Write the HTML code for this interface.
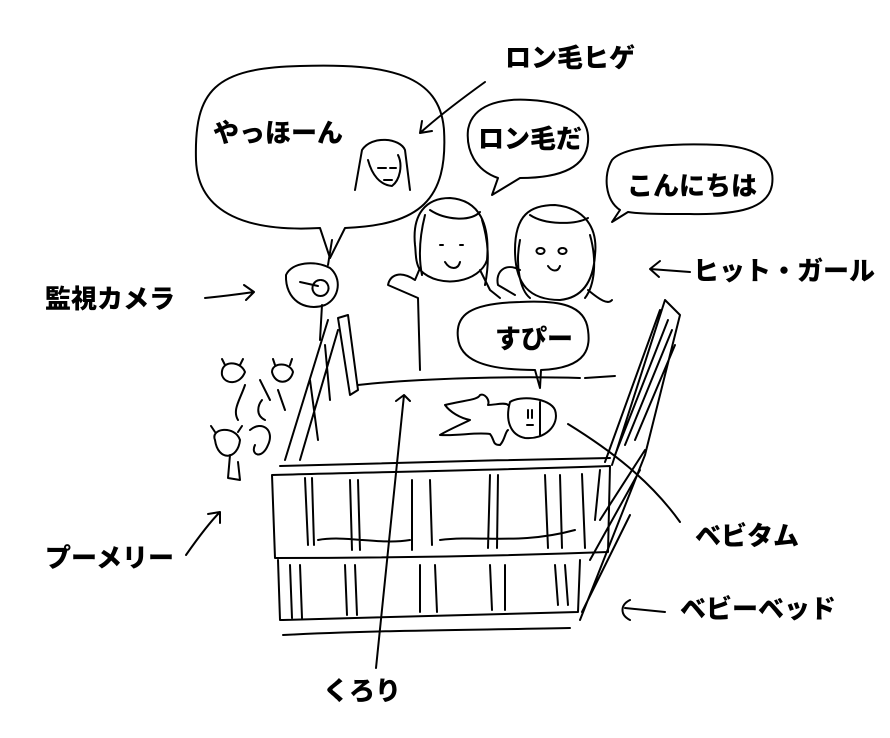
<!DOCTYPE html>
<html><head><meta charset="utf-8"><style>
html,body{margin:0;padding:0;background:#fff;}
svg{display:block}
text{font-family:"Liberation Sans","Noto Sans CJK JP",sans-serif;font-weight:900;fill:#000;font-size:26px}
</style></head><body>
<svg width="890" height="738" viewBox="0 0 890 738" xmlns="http://www.w3.org/2000/svg">
<g fill="none" stroke="#000" stroke-width="2" stroke-linecap="round" stroke-linejoin="round">
<path d="M320,228 C250,232 198,215 196,160 C194,90 215,68 300,66 C390,63 440,75 444,130 C448,200 420,225 345,228 L330,258 Z"/>
<path d="M362,150 C372,135 400,138 405,150 L410,190 M362,150 L355,190 M368,160 C372,175 380,185 392,186 C400,180 403,165 398,155 M378,168 l8,0 M390,168 l6,0 M384,180 l8,0"/>
<path d="M485,82 C460,100 440,115 420,133 M420,133 l12,-2 M420,133 l2,-12"/>
<path d="M492,195 L498,178 C475,170 466,150 468,130 C472,105 500,98 530,100 C570,102 590,118 588,142 C586,168 560,178 520,178 Z"/>
<path d="M612,222 L620,210 C605,200 603,175 612,160 C625,145 680,143 720,145 C765,148 775,165 772,185 C768,208 740,215 690,214 C660,214 640,214 628,212 Z"/>
<path d="M205,298 C225,296 240,294 254,292 M254,292 l-10,-7 M254,292 l-8,8"/>
<path d="M286,275 C292,262 315,260 330,268 C342,278 340,298 325,305 C305,312 285,300 286,275 Z M300,282 l18,4 M320,280 a8,8 0 1,0 1,0 M322,305 L320,340"/>
<path d="M328,265 L332,240"/>
<path d="M690,272 L650,269 M650,269 l10,-8 M650,269 l9,8"/>
<!-- girl 1 long hair -->
<path d="M415,245 C412,215 425,198 450,198 C480,200 490,225 487,260 C480,282 440,290 420,270 C415,262 416,252 415,245 Z M430,210 C445,220 470,222 480,212 M440,245 l3,0 M460,245 l3,0 M445,262 C450,270 458,270 460,262 M425,215 C420,235 418,255 422,275 M482,220 C488,240 490,260 485,285"/>
<path d="M420,268 L415,280 C400,270 390,275 388,285 L418,298 L420,370 M480,270 L490,290 L500,298"/>
<!-- girl 2 -->
<path d="M515,250 C515,215 530,205 555,205 C585,208 598,228 595,255 C593,285 580,298 560,300 C530,300 515,285 515,250 Z M530,215 C545,225 575,225 588,218 M540,248 a4,3 0 1,0 1,0 M562,248 a4,3 0 1,0 1,0 M548,266 C552,272 558,272 560,266 M520,240 C515,265 520,290 530,298 M590,235 C597,260 595,285 585,298"/>
<path d="M520,270 C505,262 495,272 498,285 L515,295 M588,290 C600,300 608,305 612,300"/>
<path d="M535,370 L540,388 L541,370 C590,368 590,345 588,330 C585,305 560,300 520,302 C470,303 455,315 458,338 C460,358 480,370 535,370 Z"/>
<!-- right panel parallelogram -->
<path d="M612,465 L665,300 L680,315 L645,455 L580,620 M605,462 L660,310 M615,455 L668,320 M625,445 L672,330 M635,440 L675,345 M600,520 L645,450 M590,560 L640,470 M582,612 L630,515 M600,470 L595,520"/>
<path d="M285,460 L328,320 M300,460 L338,330 M338,318 L348,315 L358,390 L350,395 Z M310,380 L318,440 M325,345 L330,400"/>
<path d="M358,385 C420,378 520,376 580,378 M585,378 L615,376 M280,466 C380,463 500,460 610,458"/>
<path d="M272,475 C380,472 500,470 610,466 L608,552 C500,556 380,558 275,558 Z"/>
<path d="M305,478 L308,545 M312,478 L314,545 M350,480 L352,550 M358,480 L360,550 M412,480 L412,550 M430,480 L432,545 M490,475 L488,548 M498,475 L497,548 M545,475 L548,548 M560,475 L562,548 M582,474 L585,548 M318,540 C345,535 380,545 410,540 M440,540 C480,535 520,545 575,530"/>
<path d="M278,560 L280,620 C380,618 480,615 578,612 L580,560 M290,565 L292,618 M300,565 L302,618 M345,565 L347,615 M355,565 L357,615 M420,565 L420,612 M435,565 L437,612 M490,565 L492,610 M505,565 L505,610 M555,565 L558,605 M565,565 L568,605 M283,635 C380,630 480,630 570,628"/>
<path d="M445,405 C465,400 478,400 480,395 C485,393 490,400 488,405 C495,405 505,402 508,405 M445,405 C450,412 460,418 470,420 C460,425 448,430 440,435 C460,436 475,432 490,434 C495,440 492,445 500,445 C505,440 505,432 508,430 M510,402 C520,395 550,398 555,410 C560,425 545,440 525,438 C510,435 505,420 510,402 Z M540,402 L540,435"/>
<path d="M528,410 l0,8 M532,410 l0,8 M527,425 l6,0"/>
<path d="M568,424 C610,450 650,480 680,522"/>
<path d="M665,612 L625,608 M630,600 C620,605 620,615 630,620"/>
<path d="M404,395 L376,668 M404,395 l-8,6 M404,395 l6,6"/>
<path d="M186,555 C200,535 210,522 220,512 M220,512 l-12,2 M220,512 l0,11"/>
<path d="M222,375 C220,360 240,360 245,372 C240,385 225,385 222,375 Z M272,372 C272,362 290,362 293,372 C290,385 275,385 272,372 Z M215,440 C210,428 235,425 240,440 C238,460 218,462 215,440 Z M230,455 L228,478 L240,480 L238,462 M245,385 C240,400 232,410 238,420 M260,380 L270,400 M250,430 C262,420 275,430 268,445 C262,460 250,455 255,445 M278,390 L285,410 M262,400 C258,405 255,415 265,420 M225,365 l-3,-6 M240,365 l3,-6 M275,365 l-2,-6 M290,365 l2,-6 M215,432 l-4,-6 M238,432 l4,-6"/>
</g>
<text x="213" y="142">やっほーん</text>
<text x="505" y="67">ロン毛ヒゲ</text>
<text x="478" y="148">ロン毛だ</text>
<text x="627" y="195">こんにちは</text>
<text x="45" y="308">監視カメラ</text>
<text x="693" y="280">ヒット・ガール</text>
<text x="495" y="348">すぴー</text>
<text x="695" y="545">ベビタム</text>
<text x="680" y="618">ベビーベッド</text>
<text x="45" y="567">プーメリー</text>
<text x="323" y="700">くろり</text>
</svg>
</body></html>
